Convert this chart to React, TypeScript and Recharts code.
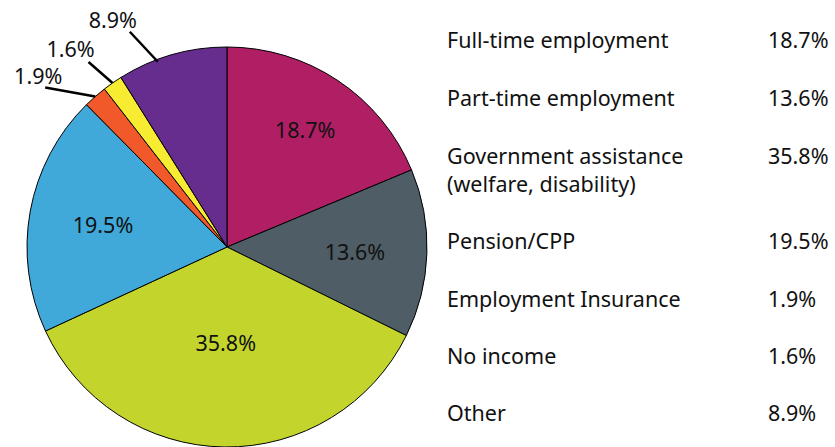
import React from 'react';
import { PieChart, Pie, Cell, Legend } from 'recharts';

const categories = [
  'Full-time employment',
  'Part-time employment',
  'Government assistance (welfare, disability)',
  'Pension/CPP',
  'Employment Insurance',
  'No income',
  'Other',
];
const values = [18.7, 13.6, 35.8, 19.5, 1.9, 1.6, 8.9];
const legendLines = [
  ['Full-time employment'],
  ['Part-time employment'],
  ['Government assistance', '(welfare, disability)'],
  ['Pension/CPP'],
  ['Employment Insurance'],
  ['No income'],
  ['Other'],
];

const colors = ['#B01E64', '#4F5D66', '#C3D52D', '#40A9D9', '#F1592A', '#F7EC31', '#662D8F'];

const data = categories.map((name, i) => ({ name, value: values[i] }));

const FONT = '"Noto Sans", sans-serif';
const FS = 21.5;
const RAD = Math.PI / 180;

// label placement (inside radius or outside leader offsets)
const insideR: Record<number, number> = { 0: 141, 1: 128, 2: 96, 3: 126 };
const outside: Record<number, { s: [number, number]; e: [number, number]; t: [number, number] }> = {
  4: { s: [0, 0], e: [-50, -9], t: [-57, -21] },
  5: { s: [0, 0], e: [-24, -21], t: [-42, -35] },
  6: { s: [-14, 7], e: [-42, -23], t: [-59, -35] },
};

const renderLabel = (props: any) => {
  const { cx, cy, midAngle, outerRadius, index, value } = props;
  const txt = `${Number(value).toFixed(1)}%`;
  if (insideR[index] !== undefined) {
    const r = insideR[index];
    const x = cx + r * Math.cos(-midAngle * RAD);
    const y = cy + r * Math.sin(-midAngle * RAD);
    return (
      <text x={x} y={y} textAnchor="middle" dominantBaseline="central" fill="#111" fontSize={FS} fontFamily={FONT}>
        {txt}
      </text>
    );
  }
  const o = outside[index];
  const ex = cx + outerRadius * Math.cos(-midAngle * RAD);
  const ey = cy + outerRadius * Math.sin(-midAngle * RAD);
  return (
    <g>
      <line x1={ex + o.s[0]} y1={ey + o.s[1]} x2={ex + o.e[0]} y2={ey + o.e[1]} stroke="#000" strokeWidth={2.5} />
      <text x={ex + o.t[0]} y={ey + o.t[1]} textAnchor="middle" dominantBaseline="central" fill="#111" fontSize={FS} fontFamily={FONT}>
        {txt}
      </text>
    </g>
  );
};

const rowTops = [40, 98, 156, 241, 299, 356, 413];

const LegendContent = () => (
  <div style={{ position: 'relative', width: 390, height: 447, fontFamily: FONT, fontSize: FS, color: '#111' }}>
    {legendLines.map((lines, i) => (
      <React.Fragment key={i}>
        {lines.map((l, j) => (
          <div
            key={j}
            style={{ position: 'absolute', left: 0, top: rowTops[i] + j * 28 - 14, lineHeight: '28px', whiteSpace: 'nowrap' }}
          >
            {l}
          </div>
        ))}
        <div style={{ position: 'absolute', left: 321, top: rowTops[i] - 14, lineHeight: '28px' }}>
          {values[i].toFixed(1)}%
        </div>
      </React.Fragment>
    ))}
  </div>
);

export default function App() {
  return (
    <div style={{ position: 'absolute', left: 0, top: 0, width: 835, height: 447, background: '#fff' }}>
      <PieChart width={835} height={447} margin={{ top: 0, right: 0, bottom: 0, left: 0 }}>
        <Pie
          data={data}
          dataKey="value"
          nameKey="name"
          cx={227}
          cy={247}
          outerRadius={200}
          startAngle={90}
          endAngle={-270}
          stroke="#000"
          strokeWidth={1}
          label={renderLabel}
          labelLine={false}
          isAnimationActive={false}
        >
          {data.map((d, i) => (
            <Cell key={d.name} fill={colors[i]} />
          ))}
        </Pie>
        <Legend
          content={<LegendContent />}
          wrapperStyle={{ position: 'absolute', left: 447, top: 0, width: 390, height: 447 }}
        />
      </PieChart>
    </div>
  );
}
